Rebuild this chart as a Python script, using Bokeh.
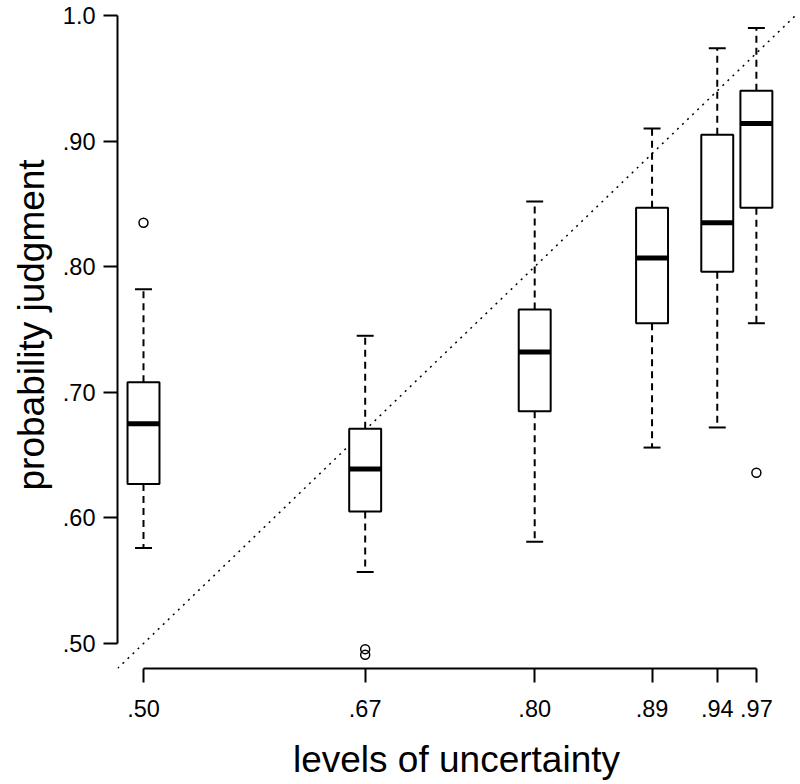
from bokeh.plotting import figure
from bokeh.models import FixedTicker, Range1d, ColumnDataSource, Slope, Title
from bokeh.embed import file_html
from bokeh.resources import INLINE

# ---- data ----
levels = [0.50, 0.67, 0.80, 0.89, 0.94, 0.97]
x_tick_labels = [".50", ".67", ".80", ".89", ".94", ".97"]
y_ticks = [0.5, 0.6, 0.7, 0.8, 0.9, 1.0]
y_tick_labels = [".50", ".60", ".70", ".80", ".90", "1.0"]

whisker_low = [0.576, 0.557, 0.581, 0.656, 0.672, 0.755]
q1 = [0.627, 0.605, 0.685, 0.755, 0.796, 0.847]
median = [0.675, 0.639, 0.732, 0.807, 0.835, 0.914]
q3 = [0.708, 0.671, 0.766, 0.847, 0.905, 0.940]
whisker_high = [0.782, 0.745, 0.852, 0.910, 0.974, 0.990]

outlier_x = [0.50, 0.67, 0.67, 0.97]
outlier_y = [0.835, 0.4955, 0.491, 0.636]

x_title = "levels of uncertainty"
y_title = "probability judgment"

# ---- layout / styles ----
BOX_W = 0.0245
CAP_W = 0.013
FONT = "Liberation Sans"

src = ColumnDataSource(dict(
    x=levels,
    left=[v - BOX_W / 2 for v in levels],
    right=[v + BOX_W / 2 for v in levels],
    cap_l=[v - CAP_W / 2 for v in levels],
    cap_r=[v + CAP_W / 2 for v in levels],
    wl=whisker_low, q1=q1, med=median, q3=q3, wh=whisker_high,
))

p = figure(width=800, height=784,
           x_range=Range1d(0.48006, 1.0), y_range=Range1d(0.4801, 1.0),
           output_backend="svg", toolbar_location=None,
           min_border_left=117, min_border_right=5,
           min_border_top=15, min_border_bottom=116)
p.grid.visible = False
p.outline_line_color = None
p.background_fill_color = "white"
p.border_fill_color = "white"

# diagonal y = x
diag = Slope(gradient=1, y_intercept=0, line_color="black",
             line_width=1.5, line_dash="2 5", level="underlay")
p.add_layout(diag)

# whiskers
p.segment(x0="x", y0="q3", x1="x", y1="wh", source=src,
          line_color="black", line_width=2, line_dash="7 5")
p.segment(x0="x", y0="q1", x1="x", y1="wl", source=src,
          line_color="black", line_width=2, line_dash="7 5")
# caps
p.segment(x0="cap_l", y0="wh", x1="cap_r", y1="wh", source=src,
          line_color="black", line_width=2)
p.segment(x0="cap_l", y0="wl", x1="cap_r", y1="wl", source=src,
          line_color="black", line_width=2)
# boxes
p.quad(left="left", right="right", bottom="q1", top="q3", source=src,
       fill_color="white", line_color="black", line_width=2)
# medians
p.segment(x0="left", y0="med", x1="right", y1="med", source=src,
          line_color="black", line_width=5)
# outliers
p.scatter(outlier_x, outlier_y, marker="circle", size=9,
          fill_color=None, line_color="black", line_width=1.5)

# axes
xa = p.xaxis[0]
xa.ticker = FixedTicker(ticks=levels)
xa.major_label_overrides = {v: s for v, s in zip(levels, x_tick_labels)}
xa.bounds = (levels[0], levels[-1])
xa.axis_label = x_title

ya = p.yaxis[0]
ya.ticker = FixedTicker(ticks=y_ticks)
ya.major_label_overrides = {v: s for v, s in zip(y_ticks, y_tick_labels)}
ya.bounds = (y_ticks[0], y_ticks[-1])

for ax in (xa, ya):
    ax.axis_line_width = 2
    ax.axis_line_color = "black"
    ax.major_tick_line_width = 2
    ax.major_tick_line_color = "black"
    ax.major_tick_out = 14
    ax.major_tick_in = 0
    ax.minor_tick_out = 0
    ax.minor_tick_in = 0
    ax.major_label_text_font = FONT
    ax.major_label_text_font_size = "23.5px"
    ax.major_label_text_color = "black"
    ax.axis_label_text_font = FONT
    ax.axis_label_text_font_size = "37px"
    ax.axis_label_text_font_style = "normal"
    ax.axis_label_text_color = "black"

xa.major_label_standoff = 17
xa.axis_label_standoff = 19
ya.major_label_standoff = 8

# y-axis title as a side title, shifted along the axis
p.add_layout(Title(text=y_title, align="left", offset=178,
                   text_font=FONT, text_font_size="37px",
                   text_font_style="normal", text_color="black",
                   standoff=16), "left")

open("out.html", "w").write(file_html(p, INLINE))
